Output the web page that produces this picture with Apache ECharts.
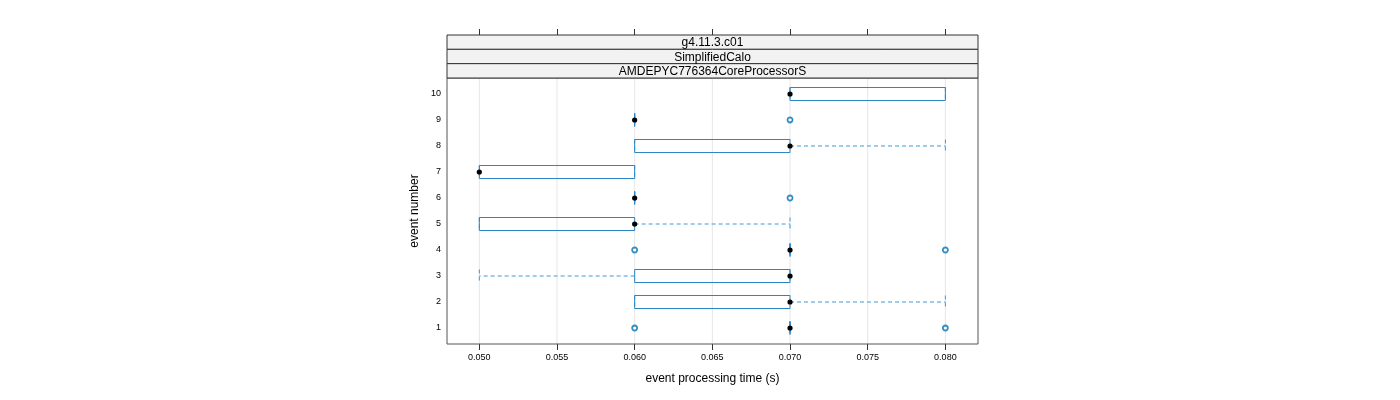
<!DOCTYPE html>
<html>
<head>
<meta charset="utf-8">
<script src="https://cdn.jsdelivr.net/npm/echarts@6/dist/echarts.min.js"></script>
<style>html,body{margin:0;padding:0;background:#fff}#c{width:1400px;height:400px}</style>
</head>
<body>
<div id="c"></div>
<script>
// ---- data ----
var events      = [1, 2, 3, 4, 5, 6, 7, 8, 9, 10];
var whiskerLow  = [0.070, 0.060, 0.050, 0.070, 0.050, 0.060, 0.050, 0.060, 0.060, 0.070];
var boxQ1       = [0.070, 0.060, 0.060, 0.070, 0.050, 0.060, 0.050, 0.060, 0.060, 0.070];
var medians     = [0.070, 0.070, 0.070, 0.070, 0.060, 0.060, 0.050, 0.070, 0.060, 0.070];
var boxQ3       = [0.070, 0.070, 0.070, 0.070, 0.060, 0.060, 0.060, 0.070, 0.060, 0.080];
var whiskerHigh = [0.070, 0.080, 0.070, 0.070, 0.070, 0.060, 0.060, 0.080, 0.060, 0.080];
var outlierEvent = [1, 1, 4, 4, 6, 9];
var outlierValue = [0.060, 0.080, 0.060, 0.080, 0.070, 0.070];
var xTickValues = [0.050, 0.055, 0.060, 0.065, 0.070, 0.075, 0.080];
var yTickValues = [1, 2, 3, 4, 5, 6, 7, 8, 9, 10];
var stripLabels = ['g4.11.3.c01', 'SimplifiedCalo', 'AMDEPYC776364CoreProcessorS'];
var xTitle = 'event processing time (s)';
var yTitle = 'event number';

var FONT = "'Liberation Sans', Arial, Helvetica, sans-serif";
var BLUE = '#2a86c3';
var DASH = '#3f9ad6';
var OUT = '#0070b0';

var boxData = events.map(function (e, i) {
  return [e, whiskerLow[i], boxQ1[i], medians[i], boxQ3[i], whiskerHigh[i]];
});
var outlierData = outlierEvent.map(function (e, i) { return [outlierValue[i], e]; });
var gridData = xTickValues.map(function (v) { return [v]; });

var G = { left: 447, top: 78, width: 531, height: 266 };
var stripH = 14.33;

var graphics = [];
stripLabels.forEach(function (s, k) {
  var y = G.top - stripH * (stripLabels.length - k);
  graphics.push({
    type: 'rect', x: G.left, y: y, z: 10,
    shape: { x: 0, y: 0, width: G.width, height: stripH },
    style: { fill: '#f2f2f2', stroke: '#333', lineWidth: 1 }
  });
  graphics.push({
    type: 'text', z: 11, x: G.left + G.width / 2, y: y + stripH / 2 + 1,
    style: { text: s, font: '12px ' + FONT, fill: '#000', align: 'center', verticalAlign: 'middle' }
  });
});

var chart = echarts.init(document.getElementById('c'), null, { renderer: 'canvas' });
chart.setOption({
  animation: false,
  backgroundColor: '#fff',
  graphic: graphics,
  grid: {
    left: G.left, top: G.top, width: G.width, height: G.height,
    show: true, borderColor: '#555', borderWidth: 1, backgroundColor: 'transparent', z: 5
  },
  xAxis: [{
    type: 'value', min: 0.04792, max: 0.08210, position: 'bottom',
    name: xTitle, nameLocation: 'middle', nameGap: 29,
    nameTextStyle: { fontFamily: FONT, fontSize: 12, color: '#000' },
    axisLine: { show: false },
    axisTick: { show: true, inside: false, length: 6, customValues: xTickValues, lineStyle: { color: '#333' } },
    axisLabel: { show: true, customValues: xTickValues, margin: 9, fontFamily: FONT, fontSize: 9, color: '#000',
      formatter: function (v) { return v.toFixed(3); } },
    splitLine: { show: false }
  }, {
    type: 'value', min: 0.04792, max: 0.08210, position: 'top', offset: 43,
    axisLine: { show: false },
    axisTick: { show: true, inside: false, length: 6, customValues: xTickValues, lineStyle: { color: '#333' } },
    axisLabel: { show: false },
    splitLine: { show: false }
  }],
  yAxis: {
    type: 'value', min: 0.385, max: 10.615,
    name: yTitle, nameLocation: 'middle', nameGap: 26, nameRotate: 90,
    nameTextStyle: { fontFamily: FONT, fontSize: 12, color: '#000' },
    axisLine: { show: false },
    axisTick: { show: false },
    axisLabel: { show: true, customValues: yTickValues, margin: 6, fontFamily: FONT, fontSize: 9, color: '#000' },
    splitLine: { show: false }
  },
  series: [{
    type: 'custom', z: 1, silent: true,
    data: gridData,
    renderItem: function (params, api) {
      var p0 = api.coord([api.value(0), 0.385]);
      var p1 = api.coord([api.value(0), 10.615]);
      return { type: 'line', shape: { x1: p0[0], y1: p0[1], x2: p1[0], y2: p1[1] },
        style: { stroke: '#e6e6e6', lineWidth: 1 } };
    }
  }, {
    type: 'custom', z: 3, silent: true,
    data: boxData,
    encode: { x: [1, 2, 3, 4, 5], y: 0 },
    renderItem: function (params, api) {
      var e = api.value(0);
      var lo = api.coord([api.value(1), e]);
      var q1 = api.coord([api.value(2), e]);
      var md = api.coord([api.value(3), e]);
      var q3 = api.coord([api.value(4), e]);
      var hi = api.coord([api.value(5), e]);
      var h = api.size([0, 0.5])[1];
      var y = md[1];
      var dash = { stroke: DASH, lineWidth: 1, lineDash: [4, 3] };
      var children = [];
      children.push({ type: 'line', shape: { x1: q1[0], y1: y, x2: lo[0], y2: y }, style: dash });
      children.push({ type: 'line', shape: { x1: q3[0], y1: y, x2: hi[0], y2: y }, style: dash });
      children.push({ type: 'line', shape: { x1: lo[0], y1: y - h / 2, x2: lo[0], y2: y + h / 2 }, style: dash });
      children.push({ type: 'line', shape: { x1: hi[0], y1: y - h / 2, x2: hi[0], y2: y + h / 2 }, style: dash });
      children.push({ type: 'rect', shape: { x: q1[0], y: y - h / 2, width: q3[0] - q1[0], height: h },
        style: { fill: 'none', stroke: BLUE, lineWidth: 1 } });
      children.push({ type: 'circle', shape: { cx: md[0], cy: y, r: 2.6 }, style: { fill: '#000' } });
      return { type: 'group', children: children };
    }
  }, {
    type: 'scatter', z: 4, silent: true,
    data: outlierData,
    symbol: 'circle', symbolSize: 5,
    itemStyle: { color: '#fff', borderColor: OUT, borderWidth: 1.8 }
  }]
});
</script>
</body>
</html>
